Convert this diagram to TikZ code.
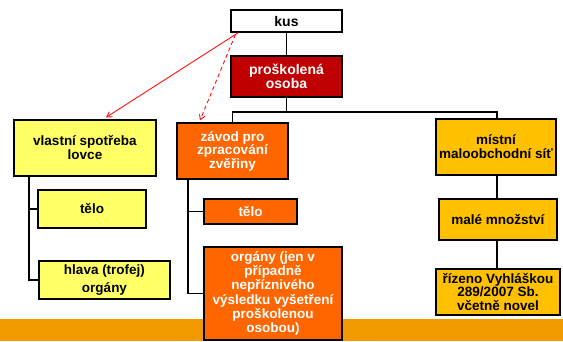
\documentclass[tikz,border=0pt]{standalone}
\usepackage{fontspec}
\setmainfont{Liberation Sans}
\usetikzlibrary{arrows.meta,calc}
\definecolor{cyel}{HTML}{FFFF66}
\definecolor{corg}{HTML}{FF6600}
\definecolor{cred}{HTML}{C00000}
\definecolor{cgold}{HTML}{FFC000}
\definecolor{cbar}{HTML}{F29A00}
\definecolor{carrow}{HTML}{FF1010}
\tikzset{
  box/.style={draw=black, line width=1.2pt, align=center, inner sep=1pt,
    font=\fontsize{13.5}{13.5}\selectfont\bfseries},
  yelbox/.style={box, fill=cyel, text=black},
  orgbox/.style={box, fill=corg, text=white},
  goldbox/.style={box, fill=cgold, text=black},
  conn/.style={draw=black, line width=1.4pt},
  redarr/.style={draw=carrow, line width=0.9pt, -{Straight Barb[length=5pt,width=6pt]}},
}
\begin{document}
\begin{tikzpicture}[x=1pt,y=-1pt]
\useasboundingbox (0,0) rectangle (563,341);
\fill[cbar] (0,319) rectangle (563,341);
% nodes
\node[box, fill=white, minimum width=111, minimum height=22, font=\fontsize{14}{14}\selectfont\bfseries] (kus) at (286.5,21) {kus};
\node[box, fill=cred, text=white, minimum width=111, minimum height=41, font=\fontsize{14}{13.5}\selectfont\bfseries] (pros) at (286.5,76.5) {proškolená\\osoba};
\node[yelbox, minimum width=142, minimum height=56, font=\fontsize{13.5}{14}\selectfont\bfseries] (vl) at (85,148) {vlastní spotřeba\\lovce};
\node[yelbox, minimum width=108, minimum height=38] (t1) at (92,209) {tělo};
\node[yelbox, minimum width=131, minimum height=38, font=\fontsize{13.5}{18}\selectfont\bfseries] (hl) at (104.5,280) {hlava (trofej)\\orgány};
\node[orgbox, minimum width=111, minimum height=56] (zv) at (232.5,151) {závod pro\\zpracování\\zvěřiny};
\node[orgbox, minimum width=93, minimum height=25] (t2) at (250.5,211.5) {tělo};
\node[orgbox, minimum width=138, minimum height=93, font=\fontsize{13.5}{14.3}\selectfont\bfseries] (org) at (273,293.5) {orgány (jen v\\případně\\nepříznivého\\výsledku vyšetření\\proškolenou\\osobou)};
\node[goldbox, minimum width=120, minimum height=56, font=\fontsize{13.5}{14}\selectfont\bfseries] (mi) at (496,147) {místní\\maloobchodní síť};
\node[goldbox, minimum width=118, minimum height=41] (ma) at (498,219.5) {malé množství};
\node[goldbox, minimum width=124, minimum height=46] (ri) at (498,292) {řízeno Vyhláškou\\289/2007 Sb.\\včetně novel};
% connectors
\coordinate (jy) at (0,112);
\coordinate (lx) at (29,0);
\coordinate (mx) at (188,0);
\coordinate (rx) at (497,0);
\draw[conn] (kus.south) -- (pros.north);
\draw[conn] (pros.south) -- (pros.south |- jy);
\draw[conn] (zv.north) -- (zv.north |- jy) -- (rx |- jy) -- (rx |- mi.north);
\draw[conn] (rx |- mi.south) -- (rx |- ma.north);
\draw[conn] (rx |- ma.south) -- (rx |- ri.north);
\draw[conn] (lx |- vl.south) -- (lx |- hl.west) -- (hl.west);
\draw[conn] (lx |- t1.west) -- (t1.west);
\draw[conn] (mx |- zv.south) -- (mx |- org.west) -- (org.west);
\draw[conn] (mx |- t2.west) -- (t2.west);
% red arrows
\draw[redarr] ($(kus.south west)+(8,0)$) -- ($(vl.north)+(21,-2)$);
\draw[redarr, dashed, dash pattern=on 4pt off 3pt] ($(kus.south west)+(5,2)$) -- ($(zv.north)+(-32.5,-2)$);
\end{tikzpicture}
\end{document}
